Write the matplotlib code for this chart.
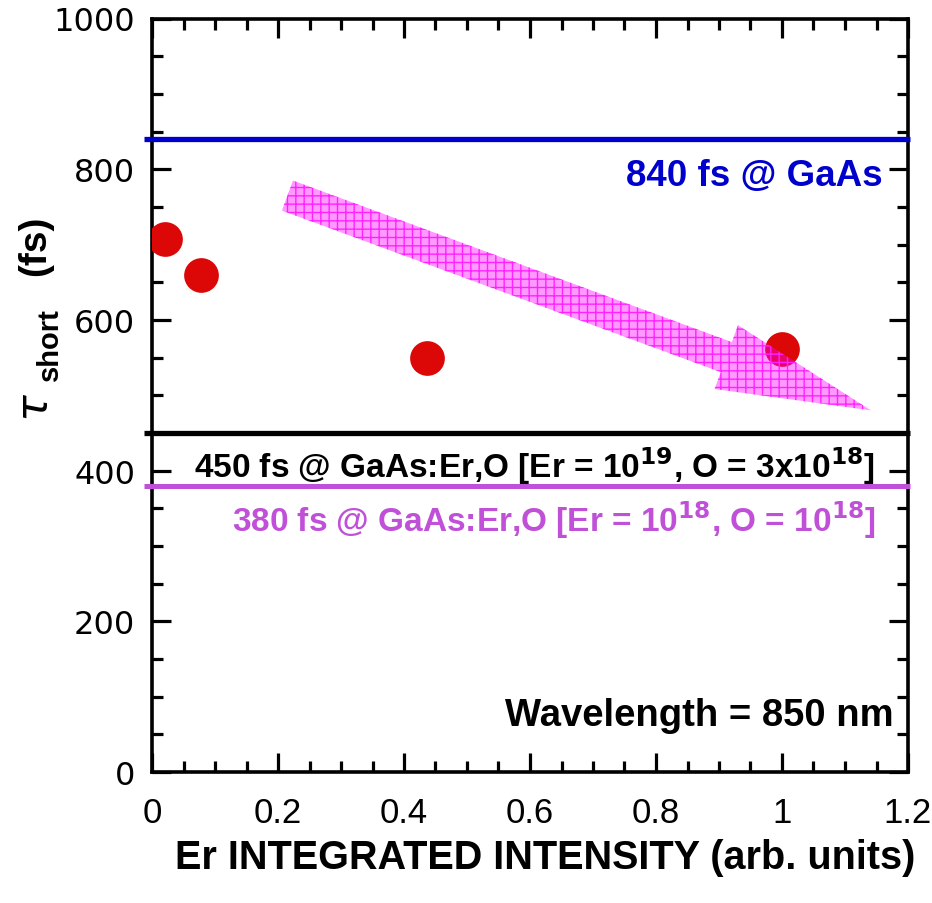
import numpy as np
import matplotlib
matplotlib.use("Agg")
import matplotlib.pyplot as plt
from matplotlib.patches import Polygon

plt.rcParams['font.family'] = ['Liberation Sans', 'DejaVu Sans']

# data
er_intensity = [0.02, 0.078, 0.437, 1.0]
tau_short = [708, 659, 549, 562]

ref_levels = [840, 450, 380]
ref_colors = ['#0000cc', '#000000', '#c050d8']

# trend arrow (tail centre and tip, data units)
arrow_tail = (0.215, 765)
arrow_tip = (1.141, 480)

W, H = 932, 904
fig = plt.figure(figsize=(W / 100, H / 100), dpi=100)
ax = fig.add_axes([152 / W, 1 - 773 / H, (908 - 152) / W, (773 - 19.5) / H])

ax.set_xlim(0, 1.2)
ax.set_ylim(0, 1000)

ax.plot(er_intensity, tau_short, 'o', ms=25, color='#dc0808', mec='none', zorder=3)

lws = [3.8, 3.8, 3.6]
for y, c, lw in zip(ref_levels, ref_colors, lws):
    ax.plot([-0.012, 1.203], [y, y], color=c, lw=lw, clip_on=False, zorder=4,
            solid_capstyle='butt')

# arrow polygon, built in pixel space
fig.canvas.draw()
tail = ax.transData.transform(arrow_tail)
tip = ax.transData.transform(arrow_tip)
d = tip - tail
u = d / np.hypot(*d)
n = np.array([-u[1], u[0]])
shaft_w, head_w, head_l = 32, 68, 154
back = tip - u * head_l
pts = [tail + n * shaft_w / 2, back + n * shaft_w / 2, back + n * head_w / 2,
       tip, back - n * head_w / 2, back - n * shaft_w / 2, tail - n * shaft_w / 2]
pts = ax.transData.inverted().transform(np.array(pts))
ax.add_patch(Polygon(pts, closed=True, facecolor='#ff00ff', alpha=0.4,
                     edgecolor='none', zorder=5))
plt.rcParams['hatch.linewidth'] = 1.0
ax.add_patch(Polygon(pts, closed=True, facecolor='none', edgecolor='#ff22ff',
                     hatch='++', lw=0, zorder=5))

ax.text(1.16, 792, '840 fs @ GaAs', color='#0000cc', fontsize=26.5,
        fontweight='bold', ha='right', va='center', zorder=6)
ax.text(1.148, 407, r'450 fs @ GaAs:Er,O [Er = 10$^{\mathbf{19}}$, O = 3x10$^{\mathbf{18}}$]',
        color='black', fontsize=24, fontweight='bold',
        ha='right', va='center', zorder=6)
ax.text(1.149, 335, r'380 fs @ GaAs:Er,O [Er = 10$^{\mathbf{18}}$, O = 10$^{\mathbf{18}}$]',
        color='#c050d8', fontsize=24, fontweight='bold',
        ha='right', va='center', zorder=6)
ax.text(1.177, 75, 'Wavelength = 850 nm', color='black', fontsize=27.5,
        fontweight='bold', ha='right', va='center', zorder=6)

ax.set_xticks([0, 0.2, 0.4, 0.6, 0.8, 1.0, 1.2])
ax.set_xticklabels(['0', '0.2', '0.4', '0.6', '0.8', '1', '1.2'])
ax.set_xticks(np.arange(0, 1.21, 0.05), minor=True)
ax.set_yticks(range(0, 1001, 200))
ax.set_yticks(range(0, 1001, 50), minor=True)
ax.tick_params(which='both', direction='in', top=True, right=True, width=2.3)
ax.tick_params(which='major', length=14)
ax.tick_params(which='minor', length=8)
ax.tick_params(axis='x', pad=17, labelsize=25)
ax.tick_params(axis='y', pad=12, labelsize=23, labelfontfamily='DejaVu Sans')
for s in ax.spines.values():
    s.set_linewidth(2.6)

fig.text(545 / W, 1 - 858 / H, 'Er INTEGRATED INTENSITY (arb. units)', fontsize=28.5,
         fontweight='bold', ha='center', va='center')
fig.text(36 / W, 1 - 408 / H, r'$\tau$', fontsize=32, rotation=90,
         ha='center', va='center')
fig.text(50 / W, 1 - 345 / H, 'short', fontsize=21, fontweight='bold',
         rotation=90, ha='center', va='center')
fig.text(35 / W, 1 - 246 / H, '(fs)', fontsize=28, fontweight='bold',
         rotation=90, ha='center', va='center')

fig.savefig('out.png', dpi=100)
